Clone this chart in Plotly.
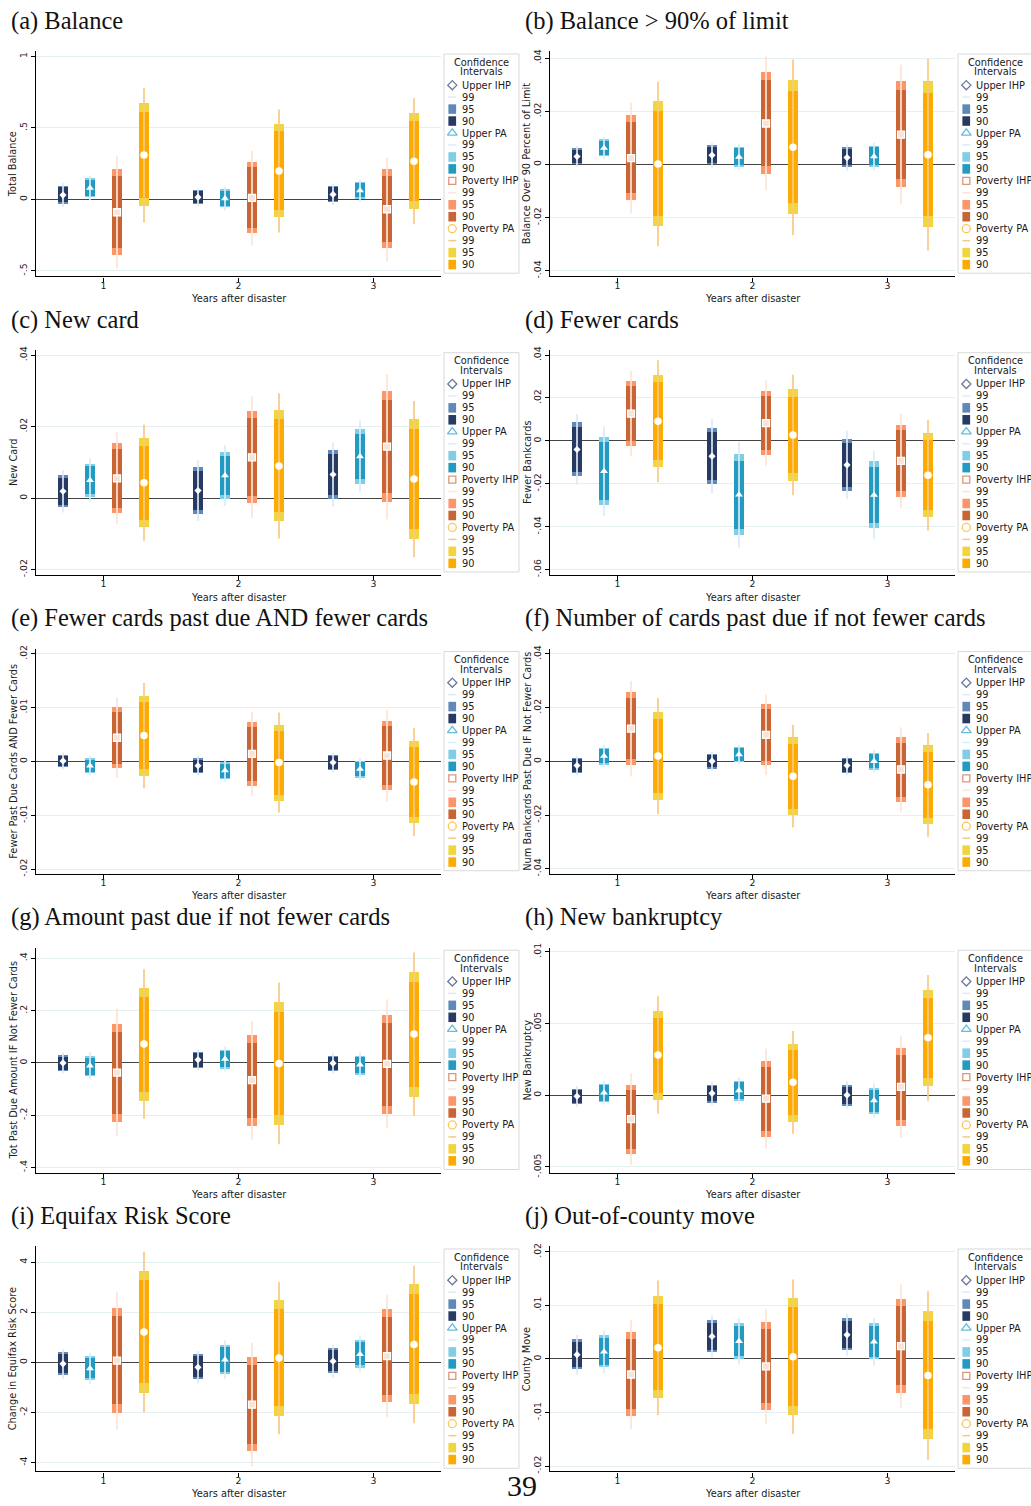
import plotly.graph_objects as go

W, H = 1031, 1506

# ---------------- data ----------------
YEARS = [1, 2, 3]
YEAR_LABELS = ["1", "2", "3"]
SERIES = ["Upper IHP", "Upper PA", "Poverty IHP", "Poverty PA"]
CI_LABELS = ["99", "95", "90"]
Z_VALUES = {"99": 2.576, "95": 1.960, "90": 1.645}

PANEL_TITLES = [
    "(a) Balance", "(b) Balance > 90% of limit", "(c) New card", "(d) Fewer cards",
    "(e) Fewer cards past due AND fewer cards",
    "(f) Number of cards past due if not fewer cards",
    "(g) Amount past due if not fewer cards", "(h) New bankruptcy",
    "(i) Equifax Risk Score", "(j) Out-of-county move",
]
Y_TITLES = [
    "Total Balance", "Balance Over 90 Percent of Limit", "New Card", "Fewer Bankcards",
    "Fewer Past Due Cards AND Fewer Cards", "Num Bankcards Past Due IF Not Fewer Cards",
    "Tot Past Due Amount IF Not Fewer Cards", "New Bankruptcy",
    "Change in Equifax Risk Score", "County Move",
]
X_TITLE = "Years after disaster"
LEGEND_TITLE = ["Confidence", "Intervals"]

Y_TICKVALS = [
    [-0.5, 0, 0.5, 1],
    [-0.04, -0.02, 0, 0.02, 0.04],
    [-0.02, 0, 0.02, 0.04],
    [-0.06, -0.04, -0.02, 0, 0.02, 0.04],
    [-0.02, -0.01, 0, 0.01, 0.02],
    [-0.04, -0.02, 0, 0.02, 0.04],
    [-0.4, -0.2, 0, 0.2, 0.4],
    [-0.005, 0, 0.005, 0.01],
    [-4, -2, 0, 2, 4],
    [-0.02, -0.01, 0, 0.01, 0.02],
]
Y_TICKTEXT = [
    ["-.5", "0", ".5", "1"],
    ["-.04", "-.02", "0", ".02", ".04"],
    ["-.02", "0", ".02", ".04"],
    ["-.06", "-.04", "-.02", "0", ".02", ".04"],
    ["-.02", "-.01", "0", ".01", ".02"],
    ["-.04", "-.02", "0", ".02", ".04"],
    ["-.4", "-.2", "0", ".2", ".4"],
    ["-.005", "0", ".005", ".01"],
    ["-4", "-2", "0", "2", "4"],
    ["-.02", "-.01", "0", ".01", ".02"],
]
Y_RANGES = [
    [-0.539, 1.035], [-0.0421, 0.0425], [-0.0216, 0.0414], [-0.0626, 0.0423],
    [-0.0209, 0.0209], [-0.0419, 0.0419], [-0.42, 0.4406], [-0.0054, 0.01028],
    [-4.36, 4.63], [-0.021, 0.021],
]

# point estimates and standard errors: rows = series (Upper IHP, Upper PA, Poverty IHP, Poverty PA), cols = years 1..3
A_EST = [[0.03, 0.015, 0.035], [0.08, 0.006, 0.062], [-0.09, 0.01, -0.069], [0.31, 0.199, 0.266]]
A_SE = [[0.032, 0.024, 0.029], [0.034, 0.032, 0.03], [0.153, 0.128, 0.141], [0.183, 0.167, 0.171]]

B_EST = [[0.003, 0.0035, 0.0026], [0.0062, 0.0028, 0.003], [0.0024, 0.0154, 0.0112], [0.0002, 0.0065, 0.0037]]
B_SE = [[0.0015, 0.0018, 0.0019], [0.0016, 0.0019, 0.002], [0.0081, 0.0098, 0.0102], [0.012, 0.0128, 0.014]]

C_EST = [[0.0019, 0.0021, 0.0066], [0.005, 0.0063, 0.0116], [0.0055, 0.0114, 0.0144], [0.0043, 0.009, 0.0053]]
C_SE = [[0.0023, 0.0033, 0.0035], [0.00235, 0.0033, 0.0039], [0.005, 0.0066, 0.0079], [0.0063, 0.0079, 0.0085]]

D_EST = [[-0.004, -0.0071, -0.0112], [-0.0141, -0.0251, -0.0252], [0.0127, 0.0083, -0.0093], [0.0092, 0.0027, -0.016]]
D_SE = [[0.0064, 0.0067, 0.0062], [0.0081, 0.0096, 0.008], [0.0077, 0.0077, 0.0086], [0.011, 0.0109, 0.01]]

E_EST = [[0.0001, -0.0008, -0.0002], [-0.0008, -0.0017, -0.0014], [0.0044, 0.0014, 0.0011], [0.0048, -0.0002, -0.0038]]
E_SE = [[0.0006, 0.0007, 0.0007], [0.0007, 0.0008, 0.0008], [0.0029, 0.003, 0.0033], [0.0038, 0.0036, 0.0039]]

F_EST = [[-0.0015, 0.0001, -0.0015], [0.002, 0.0026, 0.0001], [0.0122, 0.0099, -0.003], [0.002, -0.0055, -0.0087]]
F_SE = [[0.0014, 0.0014, 0.0014], [0.0016, 0.0014, 0.0016], [0.0069, 0.0058, 0.0061], [0.0084, 0.0074, 0.0075]]

G_EST = [[0.0, 0.012, -0.001], [-0.011, 0.0146, -0.007], [-0.037, -0.066, -0.004], [0.072, -0.002, 0.11]]
G_SE = [[0.0155, 0.0155, 0.0155], [0.02, 0.0185, 0.0185], [0.095, 0.088, 0.096], [0.111, 0.12, 0.121]]

H_EST = [[-0.00007, 0.00013, 0.00001], [0.00018, 0.00033, -0.00037], [-0.00166, -0.00024, 0.00058], [0.0028, 0.0009, 0.004]]
H_SE = [[0.00028, 0.00032, 0.00037], [0.00032, 0.00036, 0.00046], [0.00124, 0.00135, 0.00138], [0.00159, 0.00139, 0.0017]]

I_EST = [[-0.06, -0.2, 0.045], [-0.25, 0.1, 0.32], [0.066, -1.69, 0.25], [1.21, 0.17, 0.71]]
I_SE = [[0.226, 0.255, 0.255], [0.24, 0.3, 0.28], [1.07, 0.96, 0.945], [1.245, 1.18, 1.22]]

J_EST = [[0.0008, 0.0042, 0.0045], [0.00135, 0.0033, 0.0032], [-0.0029, -0.0014, 0.0024], [0.0021, 0.0004, -0.0031]]
J_SE = [[0.00143, 0.00153, 0.00152], [0.00154, 0.00168, 0.00172], [0.00396, 0.00416, 0.00446], [0.00487, 0.0056, 0.0061]]

PANEL_EST = [A_EST, B_EST, C_EST, D_EST, E_EST, F_EST, G_EST, H_EST, I_EST, J_EST]
PANEL_SE = [A_SE, B_SE, C_SE, D_SE, E_SE, F_SE, G_SE, H_SE, I_SE, J_SE]

# ---------------- styles ----------------
COLORS = [
    {"99": "#dfe9f6", "95": "#6088b8", "90": "#273a62", "sym": "#2c3e6e"},
    {"99": "#d6eef7", "95": "#7fcde6", "90": "#239ac2", "sym": "#25a0c9"},
    {"99": "#fde4d6", "95": "#fc9669", "90": "#c96535", "sym": "#cc6a3d"},
    {"99": "#f8c983", "95": "#f2d43c", "90": "#fdab00", "sym": "#f9ac13"},
]
PLOT_MARKERS = [
    dict(symbol="diamond", size=5.5, color="white", line=dict(width=0)),
    dict(symbol="triangle-up", size=7, color="white", line=dict(width=0)),
    dict(symbol="square", size=7, color="#fbe2d6", line=dict(color="white", width=1.3)),
    dict(symbol="circle", size=7.5, color="white", line=dict(width=0)),
]
LEGEND_SYMBOLS = [("diamond-open", 7), ("triangle-up-open", 8.5), ("square-open", 7), ("circle-open", 8)]
OFFSETS = [-0.3, -0.1, 0.1, 0.3]
BAR_W = 0.076
SANS = "DejaVu Sans"
SERIF = "Liberation Serif"
TXT = "#1a1a1a"

COL_X = [(36, 441), (550, 955)]
ROW_TOP0, ROW_STEP, PLOT_H = 46.7, 300.75, 226.6

fig = go.Figure()
layout = {}
shapes = []
annotations = []


def ann(x, y, text, size=9.8, font=SANS, xanchor="left", angle=0, color=TXT):
    annotations.append(dict(x=x, y=y, xref="x21", yref="y21", text=text, showarrow=False,
                            xanchor=xanchor, yanchor="middle", textangle=angle,
                            font=dict(family=font, size=size, color=color), borderpad=0))


for p in range(10):
    r, c = divmod(p, 2)
    n = p + 1
    xa = "x" if n == 1 else f"x{n}"
    ya = "y" if n == 1 else f"y{n}"
    x0, x1 = COL_X[c]
    top = ROW_TOP0 + ROW_STEP * r
    bot = top + PLOT_H

    for s in range(4):
        xs = [yr + OFFSETS[s] for yr in YEARS]
        est = PANEL_EST[p][s]
        se = PANEL_SE[p][s]
        col = COLORS[s]
        lx, ly = [], []
        z99 = Z_VALUES["99"]
        for xv, e, sd in zip(xs, est, se):
            lx += [xv, xv, None]
            ly += [e - z99 * sd, e + z99 * sd, None]
        fig.add_trace(go.Scatter(x=lx, y=ly, mode="lines", line=dict(color=col["99"], width=1.7),
                                 xaxis=xa, yaxis=ya, showlegend=False, hoverinfo="skip"))
        for lvl in ["95", "90"]:
            z = Z_VALUES[lvl]
            fig.add_trace(go.Bar(x=xs, y=[2 * z * sd for sd in se],
                                 base=[e - z * sd for e, sd in zip(est, se)],
                                 width=BAR_W, marker=dict(color=col[lvl], line=dict(width=0)),
                                 xaxis=xa, yaxis=ya, showlegend=False, hoverinfo="skip"))
        fig.add_trace(go.Scatter(x=xs, y=est, mode="markers", marker=PLOT_MARKERS[s],
                                 xaxis=xa, yaxis=ya, showlegend=False, hoverinfo="skip"))

    layout["xaxis" if n == 1 else f"xaxis{n}"] = dict(
        domain=[x0 / W, x1 / W], anchor=ya, range=[0.5, 3.5], tickvals=YEARS, ticktext=YEAR_LABELS,
        ticks="outside", ticklen=4, tickwidth=1, tickcolor="black", showline=True, linecolor="black",
        linewidth=1.2, showgrid=False, zeroline=False, fixedrange=True, ticklabelstandoff=-4,
        tickfont=dict(family=SANS, size=9.3, color=TXT))
    layout["yaxis" if n == 1 else f"yaxis{n}"] = dict(
        domain=[1 - bot / H, 1 - top / H], anchor=xa, range=Y_RANGES[p], tickvals=Y_TICKVALS[p],
        ticktext=Y_TICKTEXT[p], tickangle=-90, ticks="outside", ticklen=4, tickwidth=1,
        tickcolor="black", showline=True, linecolor="black", linewidth=1.2, showgrid=True,
        gridcolor="#e5eef1", gridwidth=1.2, zeroline=True, zerolinecolor="#444444",
        zerolinewidth=1.4, fixedrange=True, tickfont=dict(family=SANS, size=9.3, color=TXT))

    # titles
    ann(10 if c == 0 else 524, 16 + ROW_STEP * r, PANEL_TITLES[p], size=24.5, font=SERIF, color="#111")
    ann(x0 - 22.7, (top + bot) / 2, Y_TITLES[p], xanchor="center", angle=-90)
    ann((x0 + x1) / 2, bot + 22, X_TITLE, xanchor="center")

    # legend (drawn in pixel space)
    lx0 = x1 + 3
    shapes.append(dict(type="rect", xref="x21", yref="y21", x0=lx0, x1=lx0 + 75, y0=top + 2.6,
                       y1=bot - 3.3, line=dict(color="#d9d9d9", width=1), fillcolor="white",
                       layer="below"))
    ann(lx0 + 37.7, top + 10.8, LEGEND_TITLE[0], xanchor="center")
    ann(lx0 + 37.7, top + 20.6, LEGEND_TITLE[1], xanchor="center")
    sym_x, sym_y, sym_sym, sym_size, sym_col = [], [], [], [], []
    for s in range(4):
        col = COLORS[s]
        base_row = 4 * s
        rows = [SERIES[s]] + CI_LABELS
        for k, label in enumerate(rows):
            yy = top + 34 + 12.04 * (base_row + k)
            ann(lx0 + 16.8, yy, label)
            if k == 0:
                sym_x.append(lx0 + 8.3)
                sym_y.append(yy)
                sym_sym.append(LEGEND_SYMBOLS[s][0])
                sym_size.append(LEGEND_SYMBOLS[s][1])
                sym_col.append(col["sym"])
            elif k == 1:
                shapes.append(dict(type="line", xref="x21", yref="y21", x0=lx0 + 4.4, x1=lx0 + 12.2,
                                   y0=yy, y1=yy, line=dict(color=col["99"], width=1.5)))
            else:
                shapes.append(dict(type="rect", xref="x21", yref="y21", x0=lx0 + 4.4, x1=lx0 + 12.1,
                                   y0=yy - 4.8, y1=yy + 4.8, line=dict(width=0),
                                   fillcolor=col[CI_LABELS[k - 1]]))
    fig.add_trace(go.Scatter(x=sym_x, y=sym_y, mode="markers", xaxis="x21", yaxis="y21",
                             marker=dict(symbol=sym_sym, size=sym_size, color=sym_col,
                                         line=dict(width=1.3, color=sym_col)),
                             showlegend=False, hoverinfo="skip", cliponaxis=False))

ann(522, 1490, "39", size=30, font=SERIF, xanchor="center", color="#111")

layout["xaxis21"] = dict(domain=[0, 1], range=[0, W], visible=False, anchor="y21", fixedrange=True)
layout["yaxis21"] = dict(domain=[0, 1], range=[H, 0], visible=False, anchor="x21", fixedrange=True)

fig.update_layout(
    width=W, height=H, autosize=False, margin=dict(l=0, r=0, t=0, b=0, pad=0),
    paper_bgcolor="white", plot_bgcolor="rgba(0,0,0,0)", barmode="overlay", bargap=0,
    showlegend=False, shapes=shapes, annotations=annotations, **layout)

fig.write_html("out.html", config={"displayModeBar": False},
               post_script="document.body.style.margin='0';document.body.style.overflow='hidden';")
